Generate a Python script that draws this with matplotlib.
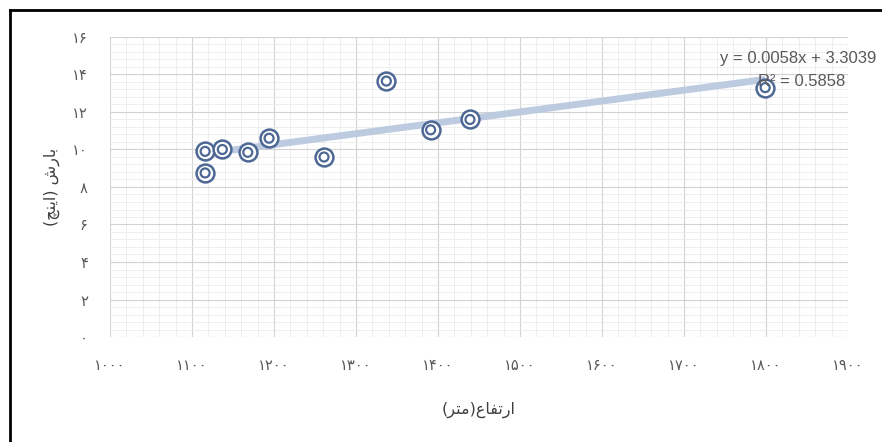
import matplotlib
matplotlib.use("Agg")
import matplotlib.pyplot as plt
from matplotlib.ticker import MultipleLocator
from matplotlib.lines import Line2D

# data ketinggian (meter) dan curah hujan (inci)
elev = [1116, 1116, 1137, 1168, 1194, 1261, 1337, 1391, 1439, 1799]
rain = [9.9, 8.75, 10.0, 9.85, 10.6, 9.6, 13.65, 11.05, 11.6, 13.3]

# garis tren dari excel
slope = 0.0058
intercept = 3.3039
r2 = 0.5858

x_ticks = [1000, 1100, 1200, 1300, 1400, 1500, 1600, 1700, 1800, 1900]
x_labels = ["۱۰۰۰", "۱۱۰۰", "۱۲۰۰", "۱۳۰۰", "۱۴۰۰", "۱۵۰۰", "۱۶۰۰", "۱۷۰۰", "۱۸۰۰", "۱۹۰۰"]
y_ticks = [0, 2, 4, 6, 8, 10, 12, 14, 16]
y_labels = ["۰", "۲", "۴", "۶", "۸", "۱۰", "۱۲", "۱۴", "۱۶"]

# label persia (bentuk presentasi, urutan visual)
ylabel = "(\uFB7B\uFEE8\uFBFE\uFE8D) \uFEB5\uFEAD\uFE8E\uFE91"
xlabel = "(\uFEAE\uFE98\uFEE3)\uFEC9\uFE8E\uFED4\uFE97\uFEAD\uFE8D"

fig = plt.figure(figsize=(8.82, 4.42), dpi=100)
ax = fig.add_axes([110/882, 1-337/442, 738/882, 300/442])

# garis tren
tx = [min(elev), max(elev)]
ty = [slope*v + intercept for v in tx]
ax.plot(tx, ty, color="#bccbdf", lw=5, solid_capstyle="butt", zorder=2)

# titik dua lingkaran
ax.scatter(elev, rain, s=165, facecolor="white", edgecolor="#4d6895", linewidths=1.8, zorder=3)
ax.scatter(elev, rain, s=42, facecolor="none", edgecolor="#4d6895", linewidths=1.6, zorder=4)

ax.set_xlim(1000, 1900)
ax.set_ylim(0, 16)
ax.set_xticks(x_ticks)
ax.set_xticklabels(x_labels)
ax.set_yticks(y_ticks)
ax.set_yticklabels(y_labels)
ax.xaxis.set_minor_locator(MultipleLocator(20))
ax.yaxis.set_minor_locator(MultipleLocator(0.4))
ax.tick_params(which="both", length=0)
ax.tick_params(axis="x", pad=15, labelsize=10.5, labelcolor="#595959")
ax.tick_params(axis="y", pad=16, labelsize=10.5, labelcolor="#595959")
ax.grid(which="major", color="#d2d2d2", lw=0.8)
ax.grid(which="minor", color="#ebebeb", lw=0.6)
ax.set_axisbelow(True)
for s in ax.spines.values():
    s.set_visible(False)

ax.set_xlabel(xlabel, fontsize=11.5, color="#404040")
ax.set_ylabel(ylabel, fontsize=11.5, color="#404040")
ax.xaxis.set_label_coords(0.5, (337-410)/300)
ax.xaxis.label.set_va("center")
ax.yaxis.set_label_coords((52-110)/738, 0.5)
ax.yaxis.label.set_va("center")

# teks persamaan
fig.text(720/882, 1-58/442, f"y = {slope}x + {intercept}", fontsize=12,
         family="Liberation Sans", color="#595959", va="center")
fig.text(758/882, 1-82/442, f"R² = {r2}", fontsize=12,
         family="Liberation Sans", color="#595959", va="center")

# bingkai hitam kiri dan atas
fig.add_artist(Line2D([10/882, 1], [1-10/442, 1-10/442], color="black", lw=2, transform=fig.transFigure))
fig.add_artist(Line2D([10/882, 10/882], [0, 1-10/442], color="black", lw=2, transform=fig.transFigure))

fig.savefig("out.png", dpi=100)
